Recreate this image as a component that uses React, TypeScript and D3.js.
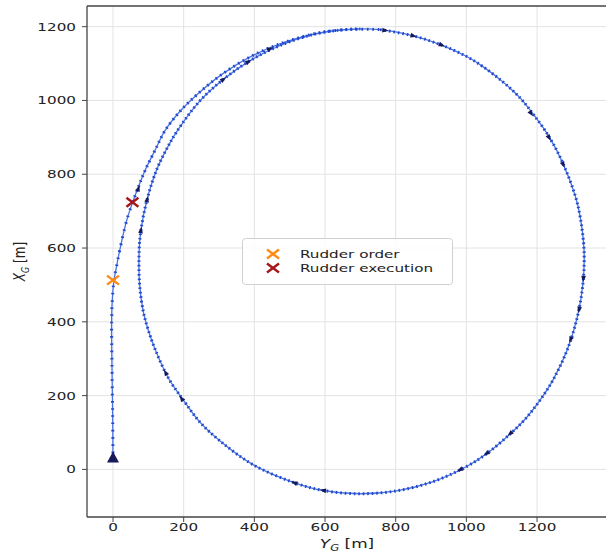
import * as d3 from 'd3';

// ship track, [Y_G, X_G] in metres
const approachLeg: [number, number][] = [
  [0, 25], [-1, 150], [-3, 280], [-4, 400], [-2, 460], [3, 513], [11, 555], [19, 594], [39, 676],
];
const transientArc: [number, number][] = [
  [56, 725], [72, 766], [91, 811], [119, 865], [147, 918], [191, 972], [239, 1017], [310, 1072],
  [396, 1122], [486, 1158], [588, 1184], [680, 1193],
];
const steadyTurn: [number, number][] = [
  [756, 1192], [850, 1175], [930, 1150], [1001, 1119], [1048, 1091], [1105, 1049], [1152, 1007],
  [1190, 962], [1237, 897], [1275, 826], [1308, 742], [1322, 685], [1333, 594], [1330, 504],
  [1314, 413], [1285, 323], [1245, 242], [1208, 187], [1168, 138], [1125, 97], [1058, 43],
  [1001, 8], [906, -33], [803, -58], [699, -66], [594, -57], [510, -35], [396, 13], [303, 77],
  [246, 128], [199, 188], [157, 247], [119, 326], [99, 380], [85, 431], [75, 505], [74, 594],
  [79, 648], [96, 730], [123, 811], [150, 865], [180, 915], [246, 999], [312, 1057], [388, 1108],
  [473, 1149], [567, 1179], [643, 1191], [700, 1194],
];

// heading arrows along the track
const arrowMarks: [number, number][] = [
  [72, 761], [97, 732], [79, 648], [149, 262], [194, 192], [513, -36], [595, -57], [982, -1],
  [1057, 43], [1124, 97], [1295, 352], [1319, 433], [1331, 517], [1274, 826], [1234, 899],
  [1183, 965], [930, 1150], [850, 1175], [770, 1190], [444, 1140], [383, 1105], [312, 1057],
];

const startPoint: [number, number] = [0, 32];
const rudderOrder: [number, number] = [0, 513];
const rudderExecution: [number, number] = [55, 724];

const xTicks = [0, 200, 400, 600, 800, 1000, 1200];
const yTicks = [0, 200, 400, 600, 800, 1000, 1200];

const legendItems = [
  { label: 'Rudder order', color: '#ff8a14' },
  { label: 'Rudder execution', color: '#a5171a' },
];

const W = 606;
const H = 553;
const plot = { left: 87, right: 607, top: 6, bottom: 517 };
const SX = 1.38; // the picture is stretched sideways
const FONT = 'DejaVu Sans, sans-serif';

function Cross({ x, y, color }: { x: number; y: number; color: string }) {
  const w = 6, h = 4.5;
  return (
    <g stroke={color} strokeWidth={2.4} strokeLinecap="butt">
      <line x1={x - w} y1={y - h} x2={x + w} y2={y + h} />
      <line x1={x - w} y1={y + h} x2={x + w} y2={y - h} />
    </g>
  );
}

export default function App() {
  const x = d3.scaleLinear().domain([-73.6, 1398]).range([plot.left, plot.right]);
  const y = d3.scaleLinear().domain([-129, 1256]).range([plot.bottom, plot.top]);

  const line = d3.line<[number, number]>()
    .x(d => x(d[0]))
    .y(d => y(d[1]))
    .curve(d3.curveCatmullRom.alpha(0.5));

  const track = [...approachLeg, ...transientArc, ...steadyTurn];

  // dotted overlays, one per leg so the spacing follows the ship's speed
  const legs = [
    { pts: approachLeg.concat([transientArc[0]]), gap: 5.6 },
    { pts: transientArc.concat([steadyTurn[0]]), gap: 3.8 },
    { pts: steadyTurn, gap: 2.9 },
  ];

  const arrows = arrowMarks.map(p => {
    let best = 0, bd = Infinity;
    track.forEach((q, i) => {
      const dd = (q[0] - p[0]) ** 2 + (q[1] - p[1]) ** 2;
      if (dd < bd) { bd = dd; best = i; }
    });
    const a = track[Math.max(0, best - 1)];
    const b = track[Math.min(track.length - 1, best + 1)];
    const ang = Math.atan2(y(b[1]) - y(a[1]), x(b[0]) - x(a[0])) * 180 / Math.PI;
    return { px: x(p[0]), py: y(p[1]), ang };
  });

  return (
    <svg width={W} height={H} style={{ position: 'absolute', left: 0, top: 0 }} fontFamily={FONT}>
      <rect width={W} height={H} fill="#fff" />

      {/* grid */}
      {xTicks.map(t => (
        <line key={'gx' + t} x1={x(t)} x2={x(t)} y1={plot.top} y2={plot.bottom} stroke="#e3e3e3" strokeWidth={1} />
      ))}
      {yTicks.map(t => (
        <line key={'gy' + t} x1={plot.left} x2={plot.right} y1={y(t)} y2={y(t)} stroke="#e3e3e3" strokeWidth={1} />
      ))}

      {/* track */}
      <path d={line(track) ?? ''} fill="none" stroke="#4a72e0" strokeWidth={1.3} />
      {legs.map((l, i) => (
        <path key={i} d={line(l.pts) ?? ''} fill="none" stroke="#1f48cf" strokeWidth={3}
          strokeDasharray={`1.6 ${l.gap}`} />
      ))}

      {arrows.map((a, i) => (
        <path key={i} d="M3.5,0 L-2.8,-2.4 L-2.8,2.4 Z" fill="#161a5a"
          transform={`translate(${a.px},${a.py}) rotate(${a.ang})`} />
      ))}

      {/* start marker */}
      <path d="M0,-6 L6,5 L-6,5 Z" fill="#161a5a"
        transform={`translate(${x(startPoint[0])},${y(startPoint[1])})`} />

      <Cross x={x(rudderOrder[0])} y={y(rudderOrder[1])} color={legendItems[0].color} />
      <Cross x={x(rudderExecution[0])} y={y(rudderExecution[1])} color={legendItems[1].color} />

      {/* spines */}
      <g stroke="#444" strokeWidth={1.3} fill="none">
        <line x1={plot.left} x2={plot.left} y1={plot.top} y2={plot.bottom} />
        <line x1={plot.left} x2={plot.right} y1={plot.bottom} y2={plot.bottom} />
        <line x1={plot.left} x2={plot.right} y1={plot.top} y2={plot.top} />
      </g>

      {/* x axis */}
      {xTicks.map(t => (
        <g key={'xt' + t}>
          <line x1={x(t)} x2={x(t)} y1={plot.bottom} y2={plot.bottom + 5} stroke="#444" strokeWidth={1} />
          <text transform={`translate(${x(t)},531) scale(${SX},1)`} textAnchor="middle" fontSize={11} fill="#222">{t}</text>
        </g>
      ))}
      {/* y axis */}
      {yTicks.map(t => (
        <g key={'yt' + t}>
          <line x1={plot.left - 5} x2={plot.left} y1={y(t)} y2={y(t)} stroke="#444" strokeWidth={1} />
          <text transform={`translate(76,${y(t) + 4}) scale(${SX},1)`} textAnchor="end" fontSize={11} fill="#222">{t}</text>
        </g>
      ))}

      {/* axis labels */}
      <text transform={`translate(${(plot.left + plot.right) / 2},548) scale(1.3,1)`} textAnchor="middle" fontSize={13} fill="#222">
        <tspan fontStyle="italic">Y</tspan>
        <tspan fontStyle="italic" fontSize={9} dy={3}>G</tspan>
        <tspan dy={-3}> [m]</tspan>
      </text>
      <text transform={`translate(25,${(plot.top + plot.bottom) / 2}) rotate(-90) scale(1,1.3)`} textAnchor="middle" fontSize={12} fill="#222">
        <tspan fontStyle="italic">X</tspan>
        <tspan fontStyle="italic" fontSize={8} dy={3}>G</tspan>
        <tspan dy={-3}> [m]</tspan>
      </text>

      {/* legend */}
      <rect x={242.5} y={238.5} width={210} height={46} rx={3} fill="#fff" fillOpacity={0.85} stroke="#d0d0d0" />
      {legendItems.map((it, i) => (
        <g key={it.label}>
          <Cross x={273} y={254 + i * 14} color={it.color} />
          <text transform={`translate(300,${258 + i * 14}) scale(${SX},1)`} fontSize={11} fill="#222">{it.label}</text>
        </g>
      ))}
    </svg>
  );
}
